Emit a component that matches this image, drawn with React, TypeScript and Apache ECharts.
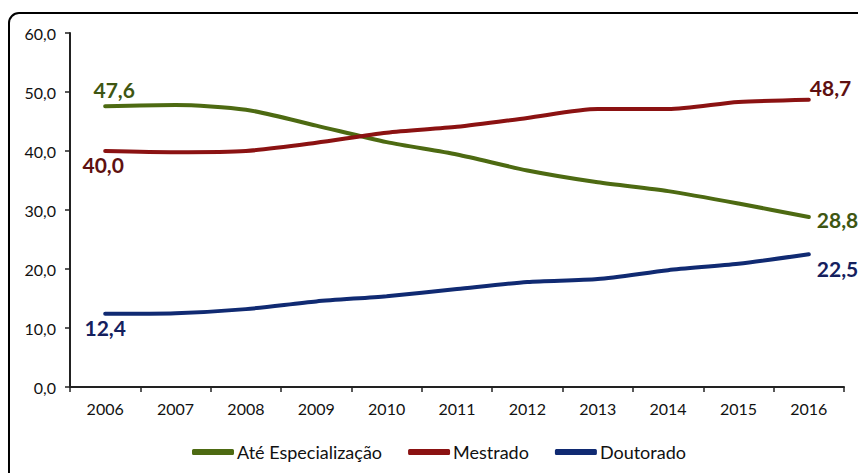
import React, { useEffect, useRef } from "react";
import * as echarts from "echarts";

const years = ["2006", "2007", "2008", "2009", "2010", "2011", "2012", "2013", "2014", "2015", "2016"];
const ateEspecializacao = [47.6, 47.8, 47.0, 44.3, 41.5, 39.4, 36.7, 34.7, 33.2, 31.1, 28.8];
const mestrado = [40.0, 39.8, 40.0, 41.4, 43.1, 44.1, 45.6, 47.1, 47.1, 48.3, 48.7];
const doutorado = [12.4, 12.5, 13.2, 14.5, 15.4, 16.6, 17.8, 18.3, 19.8, 20.9, 22.5];
const seriesNames = ["Até Especialização", "Mestrado", "Doutorado"];

const FONT = "Lato";

function fmt(v: number) {
  return v.toFixed(1).replace(".", ",");
}

function buildData(values: number[], labelColor: string, first: any, last: any) {
  return values.map((v, i) => {
    if (i === 0 || i === values.length - 1) {
      const cfg = i === 0 ? first : last;
      return {
        value: v,
        label: {
          show: true,
          formatter: (p: any) => fmt(p.value),
          color: labelColor,
          fontFamily: FONT,
          fontWeight: "bold",
          fontSize: 21,
          ...cfg,
        },
      };
    }
    return { value: v };
  });
}

export default function App() {
  const ref = useRef<HTMLDivElement>(null);
  useEffect(() => {
    if (!ref.current) return;
    const chart = echarts.init(ref.current, null, { renderer: "svg" });
    const lineCommon = {
      type: "line",
      smooth: 0.25,
      symbol: "circle",
      symbolSize: 0,
      showSymbol: true,
      lineStyle: { width: 4, cap: "round" },
    };
    chart.setOption({
      animation: false,
      backgroundColor: "#ffffff",
      textStyle: { fontFamily: FONT },
      graphic: [
        {
          type: "rect",
          shape: { x: 9, y: 13, width: 900, height: 500, r: 10 },
          style: { fill: "none", stroke: "#000", lineWidth: 2 },
          silent: true,
        },
      ],
      grid: { left: 70, top: 33, right: 14, bottom: 86 },
      legend: {
        bottom: 7,
        left: 187,
        itemWidth: 42,
        itemHeight: 6,
        itemGap: 26,
        icon: "roundRect",
        textStyle: { fontFamily: FONT, fontSize: 18, color: "#111", padding: [0, 0, 0, -2] },
        data: seriesNames,
      },
      xAxis: {
        type: "category",
        data: years,
        boundaryGap: true,
        axisLine: { lineStyle: { color: "#222", width: 2 } },
        axisTick: { show: true, length: 5, lineStyle: { color: "#222", width: 1.5 } },
        axisLabel: { fontFamily: FONT, fontSize: 16, color: "#111", margin: 13 },
      },
      yAxis: {
        type: "value",
        min: 0,
        max: 60,
        interval: 10,
        splitLine: { show: false },
        axisLine: { show: true, lineStyle: { color: "#222", width: 2 } },
        axisTick: { show: true, length: 5, lineStyle: { color: "#222", width: 1.5 } },
        axisLabel: {
          fontFamily: FONT,
          fontSize: 16,
          color: "#111",
          margin: 14,
          formatter: (v: number) => fmt(v),
        },
      },
      series: [
        {
          ...lineCommon,
          name: seriesNames[0],
          color: "#4D6A12",
          lineStyle: { ...lineCommon.lineStyle, color: "#4D6A12" },
          data: buildData(ateEspecializacao, "#3E5612",
            { position: "top", offset: [9, -1] },
            { position: "right", offset: [3, 2] }),
        },
        {
          ...lineCommon,
          name: seriesNames[1],
          color: "#8B1212",
          lineStyle: { ...lineCommon.lineStyle, color: "#8B1212" },
          data: buildData(mestrado, "#5E1010",
            { position: "bottom", offset: [-2, -2] },
            { position: "right", offset: [-4, -12] }),
        },
        {
          ...lineCommon,
          name: seriesNames[2],
          color: "#102A72",
          lineStyle: { ...lineCommon.lineStyle, color: "#102A72" },
          data: buildData(doutorado, "#14205E",
            { position: "bottom", offset: [0, -2] },
            { position: "right", offset: [3, 14] }),
        },
      ],
    });
    return () => chart.dispose();
  }, []);
  return (
    <div
      ref={ref}
      style={{ position: "fixed", left: 0, top: 0, width: 858, height: 473, background: "#fff" }}
    />
  );
}
